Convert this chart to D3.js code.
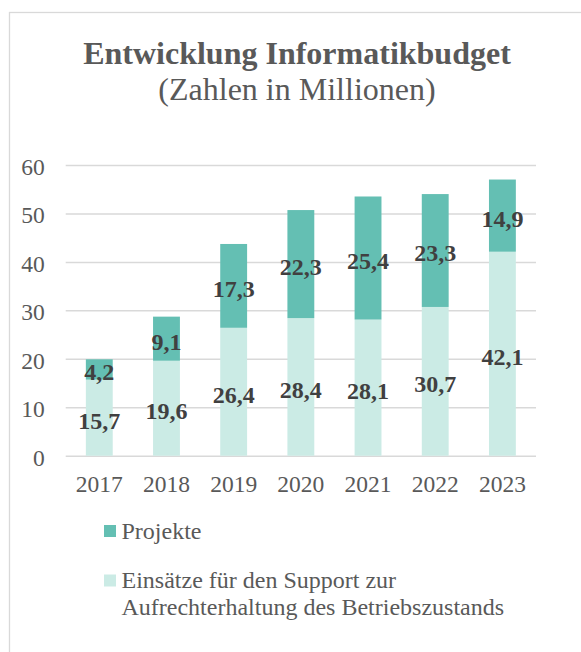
<!DOCTYPE html>
<html>
<head>
<meta charset="utf-8">
<script src="https://cdn.jsdelivr.net/npm/d3@7"></script>
<style>
  html, body { margin: 0; padding: 0; background: #ffffff; }
  svg { display: block; }
</style>
</head>
<body>
<svg id="chart" width="581" height="652"></svg>
<script>
const years = ["2017", "2018", "2019", "2020", "2021", "2022", "2023"];
const support = [15.7, 19.6, 26.4, 28.4, 28.1, 30.7, 42.1];
const projekte = [4.2, 9.1, 17.3, 22.3, 25.4, 23.3, 14.9];
const yTicks = [0, 10, 20, 30, 40, 50, 60];
const seriesNames = ["Projekte", "Einsätze für den Support zur Aufrechterhaltung des Betriebszustands"];
const legendLines = [["Projekte"], ["Einsätze für den Support zur", "Aufrechterhaltung des Betriebszustands"]];
const titleText = "Entwicklung Informatikbudget";
const subtitleText = "(Zahlen in Millionen)";

const colors = { projekte: "#64bfb3", support: "#cbebe5" };
const font = "'Liberation Serif', 'Times New Roman', serif";

const svg = d3.select("#chart");

// outer chart border (partially visible)
svg.append("rect")
  .attr("x", 9.5).attr("y", 12.5)
  .attr("width", 700).attr("height", 800)
  .attr("fill", "#ffffff")
  .attr("stroke", "#d9d9d9").attr("stroke-width", 1.3);

// title
svg.append("text")
  .attr("x", 297).attr("y", 64)
  .attr("text-anchor", "middle")
  .style("font-family", font).style("font-size", "32px").style("font-weight", "bold")
  .attr("fill", "#595959")
  .text(titleText);
svg.append("text")
  .attr("x", 297).attr("y", 100)
  .attr("text-anchor", "middle")
  .style("font-family", font).style("font-size", "32px")
  .attr("fill", "#595959")
  .text(subtitleText);

const plotLeft = 65.7, plotRight = 536, plotTop = 165, plotBottom = 455.7;

const x = d3.scaleBand().domain(years).range([plotLeft, plotRight]).paddingInner(0.6).paddingOuter(0.3);
const y = d3.scaleLinear().domain([0, 60]).range([plotBottom, plotTop]);

// y axis with gridlines
const yAxis = svg.append("g")
  .attr("transform", `translate(${plotLeft},0)`)
  .call(d3.axisLeft(y).tickValues(yTicks).tickSize(-(plotRight - plotLeft)).tickPadding(21).tickFormat(d3.format("d")));
yAxis.select(".domain").remove();
yAxis.selectAll(".tick line").attr("stroke", "#d9d9d9").attr("stroke-width", 1.5);
yAxis.selectAll(".tick text")
  .style("font-family", font).style("font-size", "23.5px")
  .attr("fill", "#595959").attr("dy", "0.4em");

// x axis
const xAxis = svg.append("g")
  .attr("transform", `translate(0,${plotBottom})`)
  .call(d3.axisBottom(x).tickSize(0).tickPadding(19.5));
xAxis.select(".domain").remove();
xAxis.selectAll(".tick text")
  .style("font-family", font).style("font-size", "23.5px")
  .attr("fill", "#595959");

// stacked data
const rows = years.map((yr, i) => ({ year: yr, support: support[i], projekte: projekte[i] }));
const stack = d3.stack().keys(["support", "projekte"]);
const stacked = stack(rows);

const layers = svg.append("g").selectAll("g")
  .data(stacked).join("g")
  .attr("fill", d => colors[d.key]);

layers.selectAll("rect")
  .data(d => d).join("rect")
  .attr("x", d => x(d.data.year))
  .attr("width", x.bandwidth())
  .attr("y", d => y(d[1]))
  .attr("height", d => y(d[0]) - y(d[1]));

// value labels
const fmt = v => v.toFixed(1).replace(".", ",");
const labels = svg.append("g");
stacked.forEach(layer => {
  labels.selectAll(null)
    .data(layer).join("text")
    .attr("x", d => x(d.data.year) + x.bandwidth() / 2)
    .attr("y", d => (y(d[0]) + y(d[1])) / 2 + 2.5)
    .attr("dy", "0.35em")
    .attr("text-anchor", "middle")
    .style("font-family", font).style("font-size", "24px").style("font-weight", "bold")
    .attr("fill", "#404040")
    .text(d => fmt(d[1] - d[0]));
});

// legend
const legendColors = [colors.projekte, colors.support];
const legendY = [538.5, 588];
const legend = svg.append("g");
legendLines.forEach((lines, i) => {
  legend.append("rect")
    .attr("x", 104).attr("y", legendY[i] - 13.5)
    .attr("width", 12).attr("height", 12)
    .attr("fill", legendColors[i]);
  const t = legend.append("text")
    .attr("x", 121.5).attr("y", legendY[i])
    .style("font-family", font).style("font-size", "24px")
    .attr("fill", "#595959");
  lines.forEach((ln, j) => {
    t.append("tspan").attr("x", 121.5).attr("dy", j === 0 ? 0 : 27).text(ln);
  });
});
</script>
</body>
</html>
